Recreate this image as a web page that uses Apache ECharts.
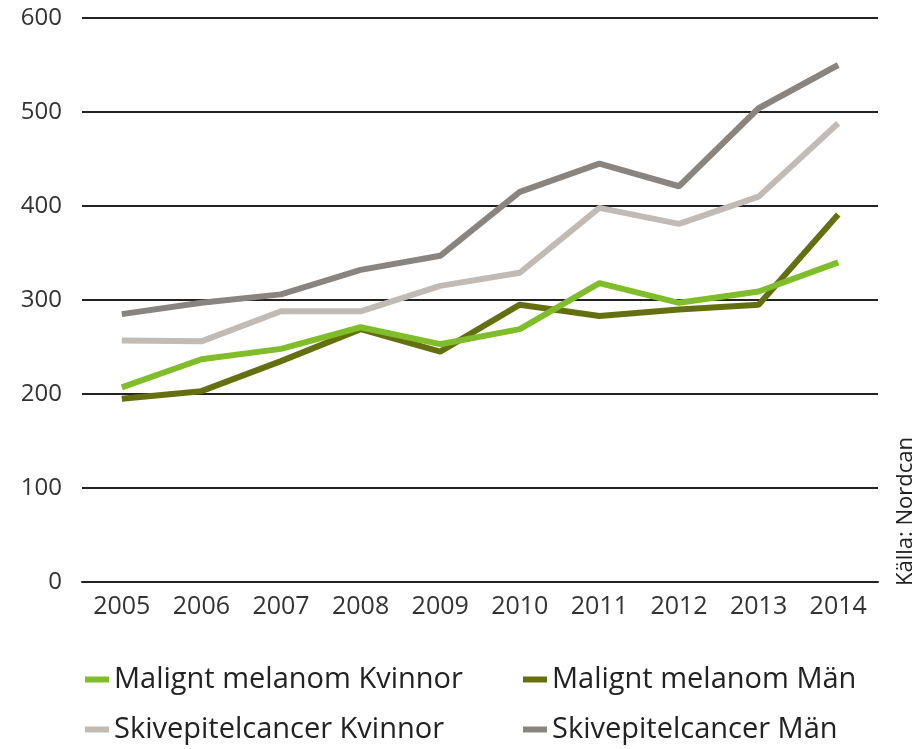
<!DOCTYPE html>
<html>
<head>
<meta charset="utf-8">
<script src="https://cdn.jsdelivr.net/npm/echarts@6/dist/echarts.min.js"></script>
<style>
html, body { margin: 0; padding: 0; background: #fff; }
#chart { width: 920px; height: 749px; }
</style>
</head>
<body>
<div id="chart"></div>
<script>
// years on the x axis
var years = ['2005', '2006', '2007', '2008', '2009', '2010', '2011', '2012', '2013', '2014'];
// series values
var melanomKvinnor = [207, 237, 248, 271, 253, 269, 318, 297, 309, 340];
var melanomMan = [195, 203, 235, 269, 245, 295, 283, 290, 295, 391];
var skivKvinnor = [257, 256, 288, 288, 315, 329, 398, 381, 410, 488];
var skivMan = [285, 297, 306, 332, 347, 415, 445, 421, 504, 550];

var font = '"Open Sans", "Noto Sans", sans-serif';
var chart = echarts.init(document.getElementById('chart'));

function legendItem(name, left, top) {
    return {
        data: [name],
        left: left,
        top: top,
        icon: 'rect',
        itemWidth: 24,
        itemHeight: 6,
        itemGap: 12,
        selectedMode: false,
        textStyle: { fontSize: 29, color: '#222', fontFamily: font }
    };
}

function line(name, data, color) {
    return {
        name: name,
        type: 'line',
        data: data,
        symbol: 'none',
        lineStyle: { width: 6, color: color },
        itemStyle: { color: color }
    };
}

var option = {
    animation: false,
    grid: {
        left: 82,
        right: 42,
        top: 18,
        bottom: 167
    },
    legend: [
        legendItem('Malignt melanom Kvinnor', 80, 660),
        legendItem('Malignt melanom Män', 518, 660),
        legendItem('Skivepitelcancer Kvinnor', 80, 710),
        legendItem('Skivepitelcancer Män', 518, 710)
    ],
    xAxis: {
        type: 'category',
        data: years,
        boundaryGap: true,
        axisLine: { lineStyle: { color: '#222', width: 2 } },
        axisTick: { show: false },
        axisLabel: { fontSize: 25, color: '#333', fontFamily: font, margin: 12 }
    },
    yAxis: {
        type: 'value',
        min: 0,
        max: 600,
        interval: 100,
        axisLine: { show: false },
        axisTick: { show: false },
        axisLabel: { fontSize: 24, color: '#333', fontFamily: font, margin: 20 },
        splitLine: { lineStyle: { color: '#222', width: 2 } }
    },
    graphic: [{
        type: 'text',
        x: 895,
        y: 586,
        rotation: Math.PI / 2,
        style: {
            text: 'Källa: Nordcan',
            font: '22px ' + font,
            fill: '#222',
            textAlign: 'left',
            textVerticalAlign: 'top'
        }
    }],
    series: [
        line('Skivepitelcancer Män', skivMan, '#8a8481'),
        line('Skivepitelcancer Kvinnor', skivKvinnor, '#c2bbb5'),
        line('Malignt melanom Män', melanomMan, '#647010'),
        line('Malignt melanom Kvinnor', melanomKvinnor, '#7fbd2b')
    ]
};
chart.setOption(option);
</script>
</body>
</html>
